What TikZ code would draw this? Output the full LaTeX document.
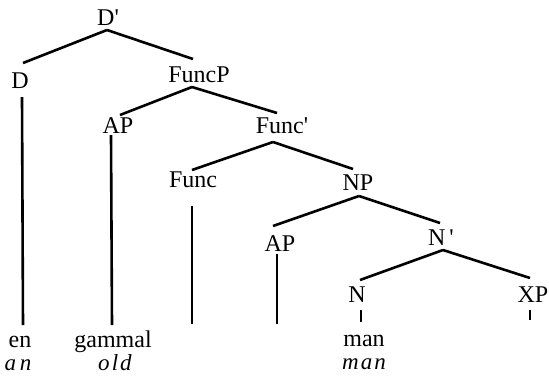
\documentclass[tikz,border=0pt]{standalone}
\usepackage{fontspec}
\setmainfont{Liberation Serif}
\begin{document}
\begin{tikzpicture}[x=1pt,y=-1pt,
  lab/.style={anchor=base, inner sep=0pt, font=\fontsize{24}{24}\selectfont},
  gl/.style={anchor=base, inner sep=0pt, font=\fontsize{23}{23}\selectfont\itshape\addfontfeature{LetterSpace=9}},
  br/.style={line width=2.6pt}]
\useasboundingbox (0,0) rectangle (549,376);
% labels
\node[lab] (Dp) at (108,25) {D\textquotesingle};
\node[lab] (D) at (20,88) {D};
\node[lab] (FuncP) at (199,82) {FuncP};
\node[lab] (AP1) at (118,133) {AP};
\node[lab] (Funcbar) at (282,133) {Func\textquotesingle};
\node[lab] (Func) at (193,187) {Func};
\node[lab] (NP) at (358,190) {NP};
\node[lab] (AP2) at (280,251) {AP};
\node[lab] (Nbar) at (441,245) {N\,\textquotesingle};
\node[lab] (N) at (357,302) {N};
\node[lab] (XP) at (533,302) {XP};
\node[lab] (en) at (20,347) {en};
\node[lab] (gammal) at (113,347) {gammal};
\node[lab] (man) at (364,346) {man};
\node[gl] (an) at (18,370) {a\,n};
\node[gl] (old) at (115,370) {old};
\node[gl] (man2) at (364,369) {man};
\coordinate (FuncEnd) at (192,324);
\coordinate (AP2End) at (277,324);
\coordinate (XPEnd) at (530,320);
% branches
\draw[br] ([shift={(-1,5)}]Dp.base) -- ([shift={(3,-25)}]D.base);
\draw[br] ([shift={(-1,5)}]Dp.base) -- ([shift={(-6,-23)}]FuncP.base);
\draw[br] ([shift={(-7,5)}]FuncP.base) -- ([shift={(2,-18)}]AP1.base);
\draw[br] ([shift={(-7,5)}]FuncP.base) -- ([shift={(-5,-20)}]Funcbar.base);
\draw[br] ([shift={(-9,9)}]Funcbar.base) -- ([shift={(-1,-17)}]Func.base);
\draw[br] ([shift={(-9,9)}]Funcbar.base) -- ([shift={(-5,-21)}]NP.base);
\draw[br] ([shift={(1,6)}]NP.base) -- ([shift={(-7,-25)}]AP2.base);
\draw[br] ([shift={(1,6)}]NP.base) -- ([shift={(-1,-22)}]Nbar.base);
\draw[br] ([shift={(2,5)}]Nbar.base) -- ([shift={(3,-22)}]N.base);
\draw[br] ([shift={(2,5)}]Nbar.base) -- ([shift={(-3,-24)}]XP.base);
% verticals
\draw[br] ([shift={(2,9)}]D.base) -- ([shift={(3,-22)}]en.base);
\draw[br] ([shift={(-7,2)}]AP1.base) -- ([shift={(-1,-22)}]gammal.base);
\draw[br] ([shift={(-1,19)}]Func.base) -- (FuncEnd);
\draw[br] ([shift={(-3,3)}]AP2.base) -- (AP2End);
\draw[br] ([shift={(4,8)}]N.base) -- ([shift={(-3,-24)}]man.base);
\draw[br] ([shift={(-3,8)}]XP.base) -- (XPEnd);
\end{tikzpicture}
\end{document}
